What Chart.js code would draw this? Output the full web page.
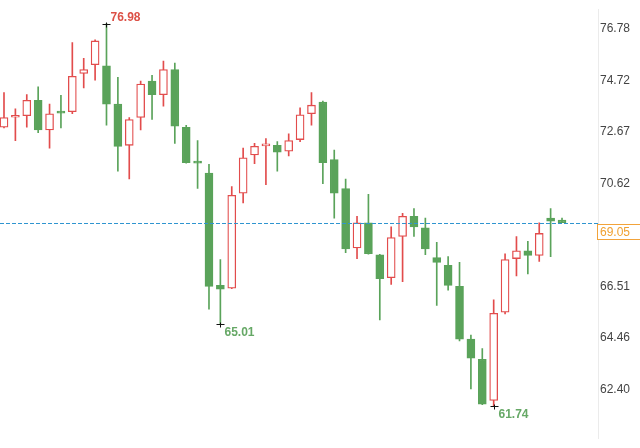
<!DOCTYPE html>
<html>
<head>
<meta charset="utf-8">
<script src="https://cdn.jsdelivr.net/npm/chart.js@4/dist/chart.umd.min.js"></script>
<style>
  html, body { margin: 0; padding: 0; background: #fff; }
  #wrap { width: 640px; height: 448px; }
</style>
</head>
<body>
<div id="wrap"><canvas id="c"></canvas></div>
<script>
// daily candles, oldest first
const opens  = [72.85, 73.25, 73.31, 73.92, 72.74, 73.45, 73.47, 74.99, 75.34, 75.30,
                73.77, 72.13, 73.24, 74.69, 74.15, 75.15, 72.85, 71.46, 71.02, 66.55,
                66.44, 70.22, 71.75, 72.11, 72.13, 71.90, 72.36, 73.39, 73.85, 71.56,
                70.41, 68.04, 69.04, 67.77, 66.86, 68.50, 69.30, 68.84, 67.66, 67.35,
                66.51, 64.41, 63.61, 61.97, 65.48, 67.62, 67.93, 67.74, 69.23, 69.15];
const highs  = [74.23, 73.58, 74.15, 74.46, 73.77, 74.12, 76.22, 75.60, 76.33, 76.98,
                74.84, 73.24, 74.69, 74.92, 75.49, 75.41, 72.93, 72.32, 71.37, 67.58,
                70.49, 72.02, 72.21, 72.40, 72.28, 72.59, 73.62, 74.23, 73.89, 71.94,
                70.79, 69.30, 70.18, 67.79, 68.88, 69.42, 69.61, 69.23, 68.27, 67.70,
                67.47, 64.57, 64.03, 65.98, 67.81, 68.50, 68.31, 69.04, 69.61, 69.23];
const lows   = [72.82, 72.32, 72.85, 72.63, 72.02, 72.82, 73.39, 74.42, 74.73, 72.93,
                71.10, 70.79, 72.74, 73.16, 73.69, 72.21, 71.42, 70.41, 65.60, 65.01,
                66.42, 69.84, 71.40, 70.56, 71.10, 71.71, 72.28, 72.93, 70.60, 69.23,
                67.85, 67.62, 67.79, 65.18, 66.59, 66.70, 68.50, 67.77, 65.75, 66.36,
                64.34, 62.43, 61.80, 61.74, 65.41, 66.93, 67.01, 67.51, 67.70, 69.05];
const closes = [73.24, 73.29, 73.92, 72.74, 73.39, 73.41, 74.88, 75.15, 76.29, 73.77,
                72.09, 73.16, 74.57, 74.15, 75.15, 72.89, 71.44, 71.42, 66.51, 66.40,
                70.14, 71.63, 72.09, 72.14, 71.86, 72.32, 73.35, 73.73, 71.44, 70.22,
                68.00, 69.04, 67.81, 66.82, 68.46, 69.30, 68.88, 68.00, 67.47, 66.55,
                64.41, 63.65, 61.82, 65.44, 67.58, 67.93, 67.74, 68.62, 69.11, 69.05];
const yTicks = [76.78, 74.72, 72.67, 70.62, 66.51, 64.46, 62.40];
// extremes flagged on the chart: index of candle and which end
const markIdx  = [9, 19, 43];
const markKind = ['high', 'low', 'low'];

const UP = '#e24c4c';
const DOWN = '#5aa35a';
const lastClose = closes[closes.length - 1];

const isUp = closes.map((c, i) => c >= opens[i]);
const colors = isUp.map(u => u ? UP : DOWN);

const bodies = opens.map((o, i) => ({ x: i, y: [o, closes[i]] }));
const wicks = lows.map((l, i) => ({ x: i, y: [l, highs[i]] }));

const overlay = {
  id: 'overlay',
  afterDatasetsDraw(chart) {
    const { ctx, chartArea, scales: { x, y } } = chart;
    const ly = Math.round(y.getPixelForValue(lastClose)) + 0.5;
    ctx.save();
    // last price line
    ctx.strokeStyle = '#2f95d0';
    ctx.lineWidth = 1;
    ctx.setLineDash([4, 2]);
    ctx.beginPath();
    ctx.moveTo(chartArea.left, ly);
    ctx.lineTo(chartArea.right, ly);
    ctx.stroke();
    ctx.setLineDash([]);

    // last price tag
    ctx.fillStyle = '#fff';
    ctx.fillRect(chartArea.right - 0.5, ly + 1, 44, 15);
    ctx.strokeStyle = '#f2a33a';
    ctx.strokeRect(chartArea.right - 0.5, ly + 1, 44, 15);
    ctx.fillStyle = '#f0a030';
    ctx.font = '12px "Liberation Sans", Arial, sans-serif';
    ctx.textBaseline = 'middle';
    ctx.textAlign = 'left';
    ctx.fillText(lastClose.toFixed(2), chartArea.right + 2, ly + 9);

    // high / low flags
    ctx.font = 'bold 12px "Liberation Sans", Arial, sans-serif';
    markIdx.forEach((idx, k) => {
      const high = markKind[k] === 'high';
      const v = high ? highs[idx] : lows[idx];
      const px = Math.round(x.getPixelForValue(idx)) + 0.5;
      const py = Math.round(y.getPixelForValue(v)) + 0.5;
      ctx.strokeStyle = '#111';
      ctx.beginPath();
      ctx.moveTo(px - 4, py); ctx.lineTo(px + 4, py);
      ctx.moveTo(px, py - 2); ctx.lineTo(px, py + 3);
      ctx.stroke();
      ctx.fillStyle = high ? '#dc5046' : '#66a866';
      ctx.fillText(v.toFixed(2), px + 4, high ? py - 6.5 : py + 8);
    });
    ctx.restore();
  }
};

new Chart(document.getElementById('c'), {
  type: 'bar',
  data: {
    datasets: [
      {
        label: 'body',
        data: bodies,
        grouped: false,
        barThickness: 8,
        maxBarThickness: 8,
        minBarLength: 2,
        backgroundColor: isUp.map(u => u ? '#ffffff' : DOWN),
        borderColor: colors,
        borderWidth: 1.3,
        borderSkipped: false,
      },
      {
        label: 'wick',
        data: wicks,
        grouped: false,
        barThickness: 1,
        maxBarThickness: 1,
        backgroundColor: colors,
        borderWidth: 0,
      },
    ],
  },
  options: {
    responsive: true,
    maintainAspectRatio: false,
    animation: false,
    layout: { padding: 0 },
    plugins: { legend: { display: false }, tooltip: { enabled: false } },
    scales: {
      x: {
        type: 'linear',
        display: false,
        offset: false,
        min: -0.351,
        max: 52.16,
      },
      y: {
        position: 'right',
        min: 60.44,
        max: 77.553,
        afterFit(s) { s.width = 42; },
        afterBuildTicks(s) { s.ticks = yTicks.map(v => ({ value: v })); },
        grid: { display: false, drawTicks: false },
        border: { display: true, color: '#ebebeb', width: 1, dash: [1, 3] },
        ticks: {
          padding: 2,
          color: '#444',
          font: { family: '"Liberation Sans", Arial, sans-serif', size: 12 },
          callback: v => Number(v).toFixed(2),
        },
      },
    },
  },
  plugins: [overlay],
});
</script>
</body>
</html>
